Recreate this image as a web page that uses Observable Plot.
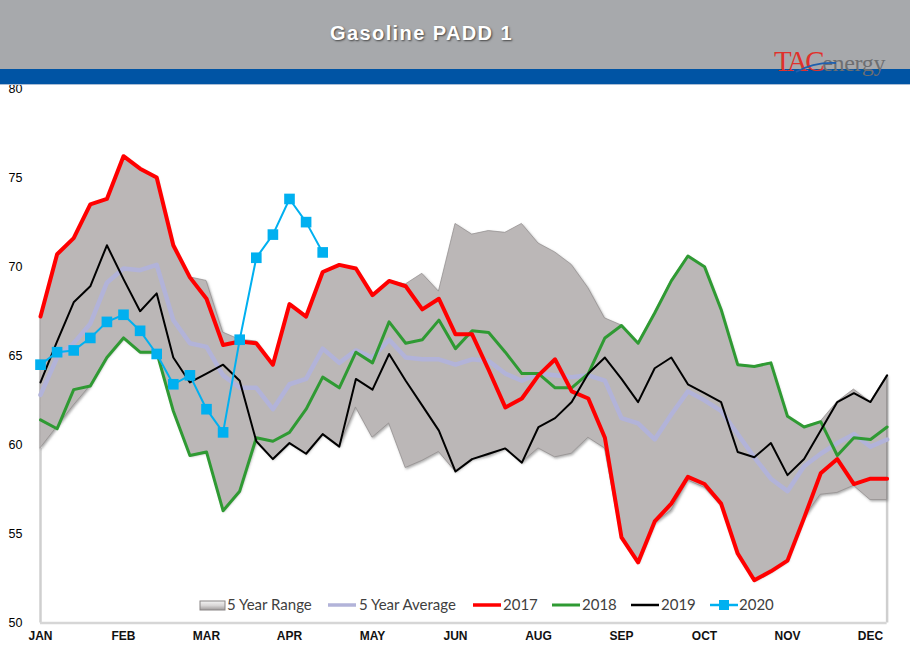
<!DOCTYPE html>
<html>
<head>
<meta charset="utf-8">
<script src="https://cdn.jsdelivr.net/npm/d3@7"></script>
<script src="https://cdn.jsdelivr.net/npm/@observablehq/plot@0.6"></script>
<style>
  body { margin: 0; background: #fff; }
  #wrap { position: relative; width: 910px; height: 659px; overflow: hidden; font-family: "Liberation Sans", Arial, sans-serif; background: #fff; }
  #chart { position: absolute; left: 0; top: 0; }
  #hdr { position: absolute; left: 0; top: 0; width: 910px; height: 69px; background: #a7a9ac; z-index: 2; }
  #band { position: absolute; left: 0; top: 69px; width: 910px; height: 15px; background: #0054a4; border-bottom: 1px solid #a9bdd6; z-index: 2; }
  #title { position: absolute; left: 0; top: 22px; width: 843px; text-align: center; color: #fff; font-weight: bold; font-size: 20px; letter-spacing: 1.4px; text-shadow: 1px 1px 2px #444; z-index: 3; }
  #logo { position: absolute; left: 774px; top: 47px; z-index: 3; font-family: "Liberation Serif", "DejaVu Serif", serif; white-space: nowrap; line-height: 1; }
  #logo .tac { color: #e0312b; font-size: 29px; letter-spacing: -2.5px; }
  #logo .en { color: #6d6e71; font-size: 24px; letter-spacing: -0.3px; }
  .leg { position: absolute; z-index: 3; font-family: Lato, "Open Sans", sans-serif; font-size: 15px; color: #404040; line-height: 1; }
</style>
</head>
<body>
<div id="wrap">
  <div id="hdr"></div>
  <div id="band"></div>
  <div id="title">Gasoline PADD 1</div>
  <div id="logo"><span class="tac">TAC</span><span class="en">energy</span>
    <svg width="44" height="16" style="position:absolute;left:20px;top:12px"><path d="M2,13 Q20,3 42,4" stroke="#1f5fae" stroke-width="1.8" fill="none"/></svg>
  </div>
  <div id="chart"></div>
</div>
<script>
// ---- data (weekly, 52 weeks) ----
const monthLabels = ["JAN","FEB","MAR","APR","MAY","JUN","AUG","SEP","OCT","NOV","DEC"];
const tickWeeks = [0,5,10,15,20,25,30,35,40,45,50];
const yTicks = [50,55,60,65,70,75,80];

const rangeHigh = [67.2,70.7,71.6,73.5,73.8,76.2,75.5,75.0,71.2,69.4,69.2,66.3,65.9,65.8,64.5,67.9,67.2,69.7,70.1,69.9,68.4,69.2,69.0,69.6,68.6,72.4,71.8,72.0,71.9,72.4,71.3,70.8,70.1,68.8,67.1,66.7,65.7,67.4,69.2,70.6,70.0,67.6,64.5,64.4,64.6,61.6,61.0,61.3,62.4,63.1,62.4,63.9];
const rangeLow = [59.8,61.0,62.2,63.3,64.9,66.0,65.2,65.2,61.9,59.4,59.6,56.3,57.4,60.2,59.2,60.1,59.5,60.6,59.9,62.1,60.4,61.2,58.7,59.1,59.6,58.5,59.2,59.4,59.8,59.0,59.8,59.3,59.5,60.4,59.8,54.8,53.4,55.6,56.3,58.0,57.6,56.6,53.8,52.4,52.9,53.5,55.9,57.2,57.3,57.7,56.9,56.9];
const avg5 = [62.8,64.9,65.7,66.8,69.1,69.9,69.8,70.1,67.0,65.7,65.5,63.9,63.2,63.2,62.0,63.4,63.7,65.4,64.6,65.3,64.9,65.9,64.9,64.8,64.8,64.5,64.8,64.7,64.0,63.6,64.0,63.9,63.8,63.9,63.6,61.5,61.2,60.3,61.7,63.0,62.5,61.9,60.6,59.3,58.1,57.4,58.8,59.5,60.1,60.6,59.9,60.3];
const y2017 = [67.2,70.7,71.6,73.5,73.8,76.2,75.5,75.0,71.2,69.4,68.2,65.6,65.8,65.7,64.5,67.9,67.2,69.7,70.1,69.9,68.4,69.2,68.9,67.6,68.2,66.2,66.2,64.2,62.1,62.6,63.9,64.8,63.0,62.6,60.4,54.8,53.4,55.7,56.7,58.2,57.8,56.7,53.9,52.4,52.9,53.5,55.9,58.4,59.2,57.8,58.1,58.1];
const y2018 = [61.4,60.9,63.1,63.3,64.9,66.0,65.2,65.2,61.9,59.4,59.6,56.3,57.4,60.4,60.2,60.7,62.0,63.8,63.2,65.2,64.6,66.9,65.7,65.9,67.0,65.4,66.4,66.3,65.2,64.0,64.0,63.2,63.2,64.0,66.0,66.7,65.7,67.4,69.2,70.6,70.0,67.6,64.5,64.4,64.6,61.6,61.0,61.3,59.4,60.4,60.3,61.0];
const y2019 = [63.5,65.8,68.0,68.9,71.2,69.3,67.5,68.5,64.9,63.5,64.0,64.5,63.6,60.2,59.2,60.1,59.5,60.6,59.9,63.7,63.1,65.1,63.6,62.2,60.8,58.5,59.2,59.5,59.8,59.0,61.0,61.5,62.4,64.0,64.9,63.7,62.4,64.3,64.9,63.4,62.9,62.4,59.6,59.3,60.1,58.3,59.2,60.8,62.4,62.9,62.4,63.9];
const y2020 = [64.5,65.2,65.3,66.0,66.9,67.3,66.4,65.1,63.4,63.9,62.0,60.7,65.9,70.5,71.8,73.8,72.5,70.8];

const colors = { avg: "#b2b3d9", c2017: "#ff0000", c2018: "#2f9a33", c2019: "#000000", c2020: "#00b0f0", range: "#bbb7b7" };

// ---- tables built from the arrays ----
const rangeRows = rangeHigh.map((h, i) => ({ i, hi: h, lo: rangeLow[i] }));
const toRows = arr => arr.map((v, i) => ({ i, v }));

const plot = Plot.plot({
  width: 910,
  height: 659,
  marginTop: 88,
  marginBottom: 36.5,
  marginLeft: 40,
  marginRight: 23.4,
  x: { domain: [0, 51] },
  y: { domain: [50, 80] },
  style: { background: "transparent", fontFamily: "'Liberation Sans', Arial, sans-serif", overflow: "visible" },
  marks: [
    Plot.ruleX([0], { y1: 50, y2: rangeLow[0], stroke: "#cfcfcf", strokeWidth: 2.5 }),
    Plot.ruleX([51], { y1: 50, y2: rangeHigh[51], stroke: "#cfcfcf", strokeWidth: 2.5 }),
    Plot.ruleY([50], { x1: 0, x2: 51, stroke: "#d6d6d6", strokeWidth: 2.5 }),
    Plot.areaY(rangeRows, { x: "i", y1: "lo", y2: "hi", fill: colors.range, stroke: "#8f8b8b", strokeWidth: 0.7 }),
    Plot.lineY(toRows(avg5), { x: "i", y: "v", stroke: colors.avg, strokeWidth: 4.5 }),
    Plot.lineY(toRows(y2018), { x: "i", y: "v", stroke: colors.c2018, strokeWidth: 3 }),
    Plot.lineY(toRows(y2017), { x: "i", y: "v", stroke: colors.c2017, strokeWidth: 4 }),
    Plot.lineY(toRows(y2019), { x: "i", y: "v", stroke: colors.c2019, strokeWidth: 2 }),
    Plot.lineY(toRows(y2020), { x: "i", y: "v", stroke: colors.c2020, strokeWidth: 2 }),
    Plot.dot(toRows(y2020), { x: "i", y: "v", symbol: "square", r: 6, fill: colors.c2020, stroke: "none" }),
    Plot.axisX(tickWeeks, { tickSize: 0, tickPadding: 8, tickFormat: d => monthLabels[tickWeeks.indexOf(d)], fontWeight: "bold", fontSize: 12, fill: "#111", label: null }),
    Plot.axisY(yTicks, { tickSize: 0, tickPadding: 18, fontSize: 12.5, fill: "#000", label: null })
  ]
});
document.getElementById("chart").appendChild(plot);

const svg = d3.select(plot);
// axis label styling
svg.selectAll('g[aria-label="y-axis tick label"]').attr("font-size", 12.5).style("font-size", "12.5px").attr("fill", "#000");
svg.selectAll('g[aria-label="x-axis tick label"]').attr("font-size", 12).style("font-size", "12px").attr("font-weight", "bold");

// soft bevel/shadow on the range area
const defs = svg.insert("defs", ":first-child");
const f = defs.append("filter").attr("id", "bevel").attr("x", "-5%").attr("y", "-5%").attr("width", "110%").attr("height", "110%");
f.append("feDropShadow").attr("dx", 1.2).attr("dy", 1.5).attr("stdDeviation", 1.2).attr("flood-color", "#666").attr("flood-opacity", 0.55);
svg.selectAll('g[aria-label="area"] path').attr("filter", "url(#bevel)");

// ---- legend ----
const legendItems = [
  { label: "5 Year Range", kind: "range", sx: 199, tx: 227 },
  { label: "5 Year Average", kind: "line", color: colors.avg, w: 3.5, sx: 328, tx: 359 },
  { label: "2017", kind: "line", color: colors.c2017, w: 3.5, sx: 473, tx: 503 },
  { label: "2018", kind: "line", color: colors.c2018, w: 3, sx: 552, tx: 582 },
  { label: "2019", kind: "line", color: colors.c2019, w: 2.5, sx: 631, tx: 661 },
  { label: "2020", kind: "marker", color: colors.c2020, w: 2.5, sx: 710, tx: 739 }
];
const wrap = document.getElementById("wrap");
const legY = 605;
for (const it of legendItems) {
  const sw = document.createElementNS("http://www.w3.org/2000/svg", "svg");
  sw.setAttribute("width", 28); sw.setAttribute("height", 14);
  sw.setAttribute("class", "leg");
  sw.style.left = it.sx + "px"; sw.style.top = (legY - 7) + "px";
  if (it.kind === "range") {
    sw.innerHTML = '<defs><linearGradient id="rg" x1="0" y1="0" x2="0" y2="1"><stop offset="0" stop-color="#f4f4f4"/><stop offset="0.5" stop-color="#d8d6d6"/><stop offset="1" stop-color="#9e9a9a"/></linearGradient></defs><rect x="1" y="3" width="25" height="9" fill="url(#rg)" stroke="#8a8686" stroke-width="1"/>';
  } else if (it.kind === "line") {
    sw.innerHTML = `<line x1="0" y1="7" x2="28" y2="7" stroke="${it.color}" stroke-width="${it.w}"/>`;
  } else {
    sw.innerHTML = `<line x1="0" y1="7" x2="28" y2="7" stroke="${it.color}" stroke-width="${it.w}"/><rect x="9" y="2" width="10" height="10" fill="${it.color}"/>`;
  }
  wrap.appendChild(sw);
  const t = document.createElement("div");
  t.className = "leg";
  t.textContent = it.label;
  t.style.left = it.tx + "px"; t.style.top = (legY - 8) + "px";
  wrap.appendChild(t);
}
</script>
</body>
</html>
